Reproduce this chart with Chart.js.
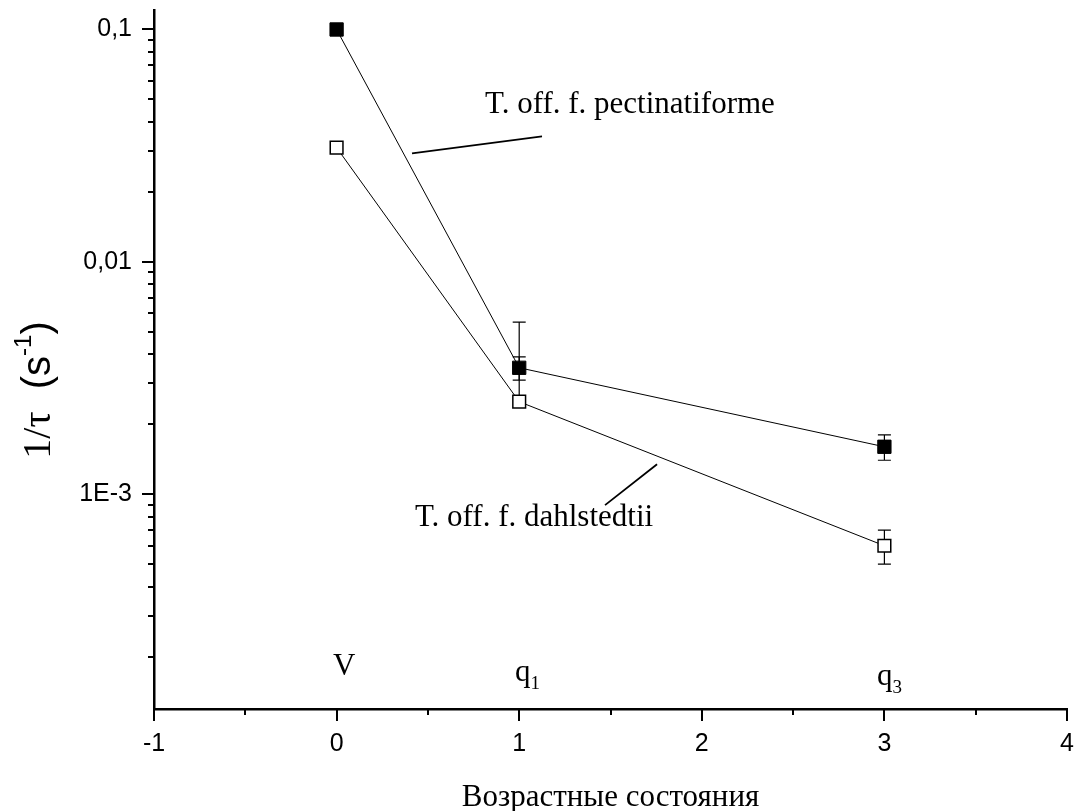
<!DOCTYPE html>
<html>
<head>
<meta charset="utf-8">
<script src="https://cdn.jsdelivr.net/npm/chart.js@4.4.0/dist/chart.umd.min.js"></script>
<style>
  html, body { margin: 0; padding: 0; background: #fff; }
  #wrap { width: 1078px; height: 811px; }
</style>
</head>
<body>
<div id="wrap"><canvas id="chart"></canvas></div>
<script>
// age states on x, 1/tau on y (log)
const states = [0, 1, 3];
const pectValues = [0.1, 0.0035, 0.0016];
const pectErrors = [0, 0.0004, 0.0002];
const dahlValues = [0.031, 0.0025, 0.0006];
const dahlErrors = [0, 0.003, 0.0001];

const xMin = -1, xMax = 4;
const yMin = 1.19e-4, yMax = 0.1207;
const yLabelValues = [0.001, 0.01, 0.1];
const yLabelTexts = ['1E-3', '0,01', '0,1'];

// state names under the curves
const stateNames = ['V', 'q', 'q'];
const stateSubs = ['', '1', '3'];
const stateX = [-0.02, 0.977, 2.96];
const stateY = [1.667e-4, 1.57e-4, 1.507e-4];

// series labels with leader lines
const seriesLabels = ['T. off. f. pectinatiforme', 'T. off. f. dahlstedtii'];
const seriesLabelX = [0.813, 0.429];
const seriesLabelY = [0.0435, 7.29e-4];
const leaderX1 = [0.413, 1.47];
const leaderY1 = [0.0293, 8.97e-4];
const leaderX2 = [1.125, 1.755];
const leaderY2 = [0.0347, 1.346e-3];

const SERIF = '"Liberation Serif", "Times New Roman", serif';
const SANS = '"Liberation Sans", Arial, sans-serif';

function points(values) {
    return states.map((s, i) => ({ x: s, y: values[i] }));
}

const errorBars = {
    id: 'errorBars',
    beforeDatasetsDraw(chart) {
        const { ctx, scales: { x, y } } = chart;
        const sets = [[pectValues, pectErrors], [dahlValues, dahlErrors]];
        ctx.save();
        ctx.strokeStyle = '#000';
        ctx.lineWidth = 1.2;
        sets.forEach(([vals, errs]) => {
            vals.forEach((v, i) => {
                const e = errs[i];
                if (!e) return;
                const px = x.getPixelForValue(states[i]);
                const py = y.getPixelForValue(v);
                const top = y.getPixelForValue(v + e);
                ctx.beginPath();
                ctx.moveTo(px, py);
                ctx.lineTo(px, top);
                ctx.moveTo(px - 6.5, top);
                ctx.lineTo(px + 6.5, top);
                if (v - e > 0) {
                    const bot = y.getPixelForValue(v - e);
                    ctx.moveTo(px, py);
                    ctx.lineTo(px, bot);
                    ctx.moveTo(px - 6.5, bot);
                    ctx.lineTo(px + 6.5, bot);
                }
                ctx.stroke();
            });
        });
        ctx.restore();
    }
};

const decorations = {
    id: 'decorations',
    afterDraw(chart) {
        const { ctx, scales: { x, y }, chartArea } = chart;
        ctx.save();
        ctx.strokeStyle = '#000';
        ctx.fillStyle = '#000';

        // tick marks
        ctx.lineWidth = 2;
        ctx.beginPath();
        for (let v = xMin; v <= xMax + 1e-9; v += 0.5) {
            const px = Math.round(x.getPixelForValue(v));
            const len = Number.isInteger(v) ? 12 : 6;
            ctx.moveTo(px, chartArea.bottom);
            ctx.lineTo(px, chartArea.bottom + len);
        }
        for (let e = -4; e <= -1; e++) {
            for (let m = 1; m <= 9; m++) {
                const v = m * Math.pow(10, e);
                if (v < yMin || v > yMax) continue;
                const py = Math.round(y.getPixelForValue(v));
                const len = m === 1 ? 12 : 6;
                ctx.moveTo(chartArea.left, py);
                ctx.lineTo(chartArea.left - len, py);
            }
        }
        ctx.stroke();

        // leader lines
        ctx.lineWidth = 1.8;
        ctx.beginPath();
        leaderX1.forEach((_, i) => {
            ctx.moveTo(x.getPixelForValue(leaderX1[i]), y.getPixelForValue(leaderY1[i]));
            ctx.lineTo(x.getPixelForValue(leaderX2[i]), y.getPixelForValue(leaderY2[i]));
        });
        ctx.stroke();

        // series labels
        ctx.textAlign = 'left';
        ctx.textBaseline = 'alphabetic';
        ctx.font = '31px ' + SERIF;
        seriesLabels.forEach((t, i) => {
            ctx.fillText(t, x.getPixelForValue(seriesLabelX[i]), y.getPixelForValue(seriesLabelY[i]));
        });

        // state names
        stateNames.forEach((t, i) => {
            const px = x.getPixelForValue(stateX[i]);
            const py = y.getPixelForValue(stateY[i]);
            ctx.font = '31px ' + SERIF;
            ctx.fillText(t, px, py);
            if (stateSubs[i]) {
                const w = ctx.measureText(t).width;
                ctx.font = '19px ' + SERIF;
                ctx.fillText(stateSubs[i], px + w, py + 8);
            }
        });

        // x title
        ctx.textAlign = 'center';
        ctx.font = '31px ' + SERIF;
        ctx.fillText('Возрастные состояния', (chartArea.left + chartArea.right) / 2, 806);

        // y title, mixed fonts
        const parts = [
            { t: '1/τ', f: '40px ' + SERIF, dy: 0 },
            { t: '  (s', f: '40px ' + SANS, dy: 0 },
            { t: '-1', f: '24px ' + SANS, dy: -19 },
            { t: ')', f: '40px ' + SANS, dy: 0 }
        ];
        let total = 0;
        parts.forEach(p => { ctx.font = p.f; p.w = ctx.measureText(p.t).width; total += p.w; });
        ctx.translate(50, 390);
        ctx.rotate(-Math.PI / 2);
        ctx.textAlign = 'left';
        let cx = -total / 2;
        parts.forEach(p => {
            ctx.font = p.f;
            ctx.fillText(p.t, cx, p.dy);
            cx += p.w;
        });
        ctx.restore();
    }
};

const ctx = document.getElementById('chart').getContext('2d');

new Chart(ctx, {
    type: 'scatter',
    data: {
        datasets: [{
            label: 'T. off. f. pectinatiforme',
            data: points(pectValues),
            showLine: true,
            borderColor: '#000',
            borderWidth: 1,
            pointStyle: 'rect',
            pointRadius: 9.4,
            pointBackgroundColor: '#000',
            pointBorderColor: '#000',
            pointBorderWidth: 1
        }, {
            label: 'T. off. f. dahlstedtii',
            data: points(dahlValues),
            showLine: true,
            borderColor: '#000',
            borderWidth: 1,
            pointStyle: 'rect',
            pointRadius: 9,
            pointBackgroundColor: '#fff',
            pointBorderColor: '#000',
            pointBorderWidth: 1.5
        }]
    },
    options: {
        responsive: true,
        maintainAspectRatio: false,
        animation: false,
        layout: { padding: { top: 10, right: 11, left: 0, bottom: 0 } },
        plugins: {
            legend: { display: false },
            tooltip: { enabled: false }
        },
        scales: {
            x: {
                type: 'linear',
                min: xMin,
                max: xMax,
                grid: { display: false, drawTicks: false },
                border: { display: true, color: '#000', width: 2.5 },
                ticks: {
                    stepSize: 1,
                    autoSkip: false,
                    maxRotation: 0,
                    padding: 20,
                    color: '#000',
                    font: { family: SANS, size: 25 }
                },
                afterFit(scale) {
                    scale.height = 102;
                    scale.paddingLeft = 0;
                    scale.paddingRight = 0;
                }
            },
            y: {
                type: 'logarithmic',
                min: yMin,
                max: yMax,
                bounds: 'data',
                grid: { display: false, drawTicks: false },
                border: { display: true, color: '#000', width: 2.5 },
                afterBuildTicks(scale) {
                    scale.ticks = yLabelValues.map(v => ({ value: v }));
                },
                ticks: {
                    autoSkip: false,
                    padding: 22,
                    color: '#000',
                    font: { family: SANS, size: 25 },
                    callback(value) {
                        const i = yLabelValues.indexOf(value);
                        return i >= 0 ? yLabelTexts[i] : '';
                    }
                },
                afterFit(scale) {
                    scale.width = 154;
                    scale.paddingTop = 0;
                    scale.paddingBottom = 0;
                }
            }
        }
    },
    plugins: [errorBars, decorations]
});
</script>
</body>
</html>
